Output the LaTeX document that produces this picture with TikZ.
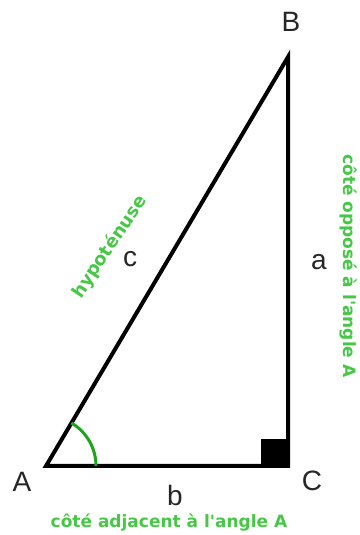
\documentclass[tikz,border=0pt]{standalone}
\usepackage{fontspec}
\setmainfont{Liberation Sans}
\newfontfamily\greenfont{DejaVu Sans}
\usepackage{xcolor}
\usetikzlibrary{positioning}

\definecolor{arcgreen}{RGB}{30,165,30}
\definecolor{txtgreen}{RGB}{70,200,70}

\begin{document}
\begin{tikzpicture}[
  x=1pt, y=1pt,
  every node/.style = {inner sep=0pt},
  side/.style = {line width=4pt, black},
  vertex/.style = {font=\fontsize{28}{28}\selectfont, text=black!85},
  sidename/.style = {font=\greenfont\fontsize{17}{17}\selectfont\bfseries, text=txtgreen}
]
\useasboundingbox (0,0) rectangle (359,535);

% Vertices
\coordinate (A) at (46,69);
\coordinate (B) at (288,478);
\coordinate (C) at (288,69);

% Triangle
\draw[side] (A) -- (B) -- (C) -- cycle;
\fill[black] (C) ++(-2,2) rectangle ++(-25,25);
\draw[arcgreen, line width=3pt] (A) ++(50,0) arc[start angle=0, end angle=59.5, radius=50];

% Vertex labels
\node[vertex] (labA) at (22,53) {A};
\node[vertex] (labB) at (291,513) {B};
\node[vertex] (labC) at (312,54) {C};

% Side labels
\node[vertex] (side_a) at (319,273) {a};
\node[vertex] (side_b) at (175,40) {b};
\node[vertex] (side_c) at (130,276) {c};

% Names of the sides
\node[sidename] (adj) at (169,12) {côté adjacent à l'angle A};
\node[sidename, rotate=-90] (opp) at (348,269) {côté opposé à l'angle A};
\node[sidename, rotate=56, font=\greenfont\fontsize{18}{18}\selectfont\bfseries] (hyp) at (110,288) {hypoténuse};

\end{tikzpicture}
\end{document}
